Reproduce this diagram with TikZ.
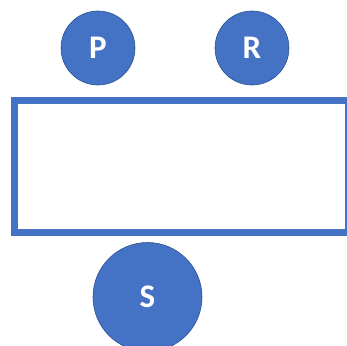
\documentclass[tikz,border=0pt]{standalone}
\usepackage{fontspec}
\setmainfont{Carlito}
\definecolor{obl}{HTML}{4472C4}
\definecolor{obd}{HTML}{2F528F}
\begin{document}
\begin{tikzpicture}[x=1pt,y=-1pt,
  ball/.style={circle,fill=obl,draw=obd,line width=0.6pt,inner sep=0pt,text=white,font=\fontsize{33}{39}\selectfont\bfseries},
  box/.style={rectangle,draw=obl,line width=7pt,fill=white,inner sep=0pt,minimum width=334pt,minimum height=132pt}]
\useasboundingbox (0,0) rectangle (347,345);
\begin{scope}
\clip (0,0) rectangle (347,345);
\node[ball,minimum size=74pt] (P) at (98,48) {P};
\node[ball,minimum size=74pt] (R) at (252,48) {R};
\node[box] (B) at (181.5,166.5) {};
\node[ball,minimum size=109pt] (S) at (147.5,297) {S};
\end{scope}
\end{tikzpicture}
\end{document}
